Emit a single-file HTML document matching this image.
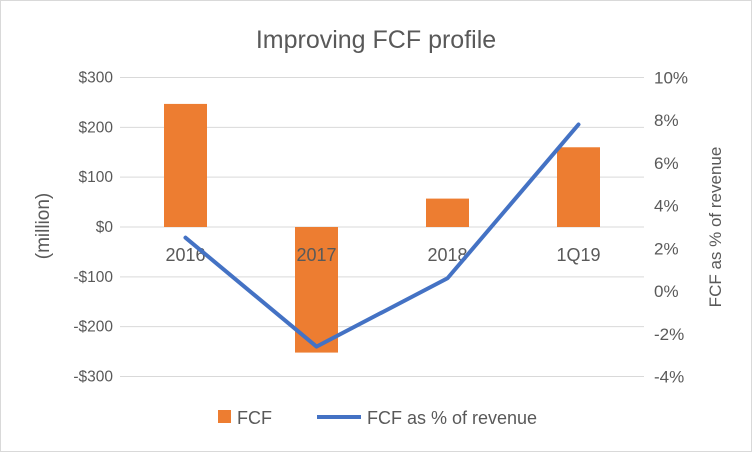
<!DOCTYPE html>
<html><head><meta charset="utf-8"><style>
body{margin:0;background:#fff}
#c{position:relative;width:750px;height:450px;border:1px solid #d9d9d9;background:#fff;font-family:"Liberation Sans",sans-serif}
</style></head><body>
<div id="c">
<svg id="s" width="750" height="450"></svg>
</div>
<script>
const categories=["2016","2017","2018","1Q19"];
const fcfValues=[247,-252,57,160];
const pctValues=[2.5,-2.6,0.6,7.8];
const leftTicks=[300,200,100,0,-100,-200,-300];
const rightTicks=[10,8,6,4,2,0,-2,-4];
const NS="http://www.w3.org/2000/svg";
const s=document.getElementById('s');
const X0=119,X1=643,YT=76.5,YB=375.5;
function yL(v){return YT+(300-v)/600*(YB-YT);}
function yR(v){return YT+(10-v)/14*(YB-YT);}
function xC(i){const w=(X1-X0)/categories.length;return X0+w*(i+0.5);}
function el(t,a,txt){const e=document.createElementNS(NS,t);for(const k in a)e.setAttribute(k,a[k]);if(txt!==undefined)e.textContent=txt;s.appendChild(e);return e;}
let t=el('text',{x:375,y:47,'text-anchor':'middle','font-size':25,fill:'#595959'},'Improving FCF profile');


leftTicks.forEach(v=>{
 const g=el('line',{x1:X0,x2:X1,y1:yL(v),y2:yL(v),stroke:'#d9d9d9','stroke-width':1});
 
 
 const lb=el('text',{x:112,y:yL(v)+5,'text-anchor':'end','font-size':15.5,fill:'#595959'},(v<0?'-$':'$')+Math.abs(v));
 
 
});
rightTicks.forEach(v=>{
 const lb=el('text',{x:653,y:yR(v)+6,'font-size':17,fill:'#595959'},v+'%');
 
 
});
const bw=43;
fcfValues.forEach((v,i)=>{
 const y0=yL(0),y1=yL(v);
 const r=el('rect',{x:xC(i)-bw/2,y:Math.min(y0,y1),width:bw,height:Math.abs(y1-y0),fill:'#ed7d31'});
 
 
});
categories.forEach((c,i)=>{
 const lb=el('text',{x:xC(i),y:yL(0)+34,'text-anchor':'middle','font-size':18,fill:'#595959'},c);
 
 
});
const pl=el('polyline',{points:pctValues.map((v,i)=>xC(i)+','+yR(v)).join(' '),fill:'none',stroke:'#4472c4','stroke-width':4,'stroke-linejoin':'round','stroke-linecap':'round'});


let a=el('text',{transform:'translate(48,225) rotate(-90)','text-anchor':'middle','font-size':19,fill:'#595959'},'(million)');


a=el('text',{transform:'translate(720,226) rotate(-90)','text-anchor':'middle','font-size':17,fill:'#595959'},'FCF as % of revenue');


let lg=el('rect',{x:217,y:409,width:13,height:13,fill:'#ed7d31'});


lg=el('text',{x:236,y:423,'font-size':18,fill:'#595959'},'FCF');


lg=el('line',{x1:316,x2:360,y1:416,y2:416,stroke:'#4472c4','stroke-width':4});


lg=el('text',{x:366,y:423,'font-size':18,fill:'#595959'},'FCF as % of revenue');


</script>
</body></html>
